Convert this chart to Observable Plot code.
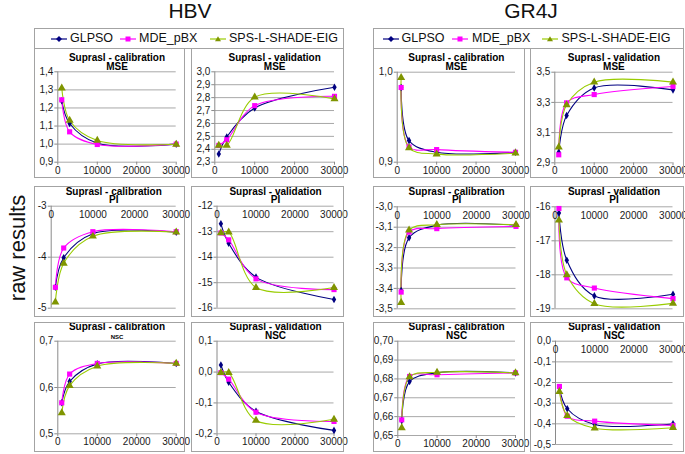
<!DOCTYPE html>
<html><head><meta charset="utf-8">
<script src="https://cdn.jsdelivr.net/npm/d3@7"></script>
<script src="https://cdn.jsdelivr.net/npm/@observablehq/plot@0.6"></script>
<style>
body{margin:0;background:#fff;font-family:"Liberation Sans",Arial,sans-serif;}
#root{position:relative;width:685px;height:454px;overflow:hidden;background:#fff}
.abs{position:absolute;white-space:nowrap}
.box{position:absolute;border:1px solid #a3a3a3;box-sizing:border-box;pointer-events:none}
</style></head><body><div id="root"></div><script>
// ---------------- data ----------------
const evals = [1000, 3000, 10000, 30000];
const seriesNames = ["GLPSO", "MDE_pBX", "SPS-L-SHADE-EIG"];
const xTicks = [0, 10000, 20000, 30000];
const groupNames = ["HBV", "GR4J"];
const yAxisLabel = "raw results";

// each panel: rows = GLPSO, MDE_pBX, SPS-L-SHADE-EIG ; columns = evals
const hbvCalMSE = [[1.24, 1.114, 1.005, 1.0], [1.245, 1.068, 0.998, 1.0], [1.31, 1.131, 1.02, 0.999]];
const hbvValMSE = [[2.363, 2.495, 2.72, 2.88], [2.43, 2.474, 2.738, 2.81], [2.43, 2.43, 2.803, 2.79]];
const hbvCalPI = [[-4.59, -4.01, -3.54, -3.51], [-4.59, -3.82, -3.50, -3.50], [-4.88, -4.12, -3.59, -3.51]];
const hbvValPI = [[-12.69, -13.45, -14.78, -15.66], [-13.05, -13.32, -14.85, -15.27], [-13.05, -13.02, -15.19, -15.19]];
const hbvCalNSC = [[0.567, 0.613, 0.651, 0.652], [0.567, 0.629, 0.652, 0.652], [0.545, 0.604, 0.646, 0.652]];
const hbvValNSC = [[0.023, -0.033, -0.127, -0.189], [-0.002, -0.023, -0.13, -0.16], [-0.002, -0.002, -0.157, -0.153]];

const gr4jCalMSE = [[0.983, 0.924, 0.911, 0.911], [0.983, 0.917, 0.914, 0.911], [0.994, 0.916, 0.909, 0.910]];
const gr4jValMSE = [[2.97, 3.213, 3.396, 3.383], [2.953, 3.297, 3.352, 3.405], [3.003, 3.284, 3.434, 3.434]];
const gr4jCalPI = [[-3.41, -3.152, -3.09, -3.09], [-3.418, -3.124, -3.107, -3.096], [-3.47, -3.115, -3.088, -3.088]];
const gr4jValPI = [[-16.18, -17.57, -18.62, -18.57], [-16.05, -18.09, -18.39, -18.70], [-16.39, -18.0, -18.85, -18.84]];
const gr4jCalNSC = [[0.658, 0.6786, 0.6832, 0.6832], [0.6583, 0.6813, 0.6822, 0.6832], [0.654, 0.681, 0.6835, 0.6832]];
const gr4jValNSC = [[-0.227, -0.327, -0.403, -0.40], [-0.219, -0.363, -0.387, -0.408], [-0.244, -0.36, -0.421, -0.419]];

// y tick values
const ticksHbvCalMSE = [0.9, 1.0, 1.1, 1.2, 1.3, 1.4];
const ticksHbvValMSE = [2.3, 2.4, 2.5, 2.6, 2.7, 2.8, 2.9, 3.0];
const ticksHbvCalPI = [-5, -4, -3];
const ticksHbvValPI = [-16, -15, -14, -13, -12];
const ticksHbvCalNSC = [0.5, 0.6, 0.7];
const ticksHbvValNSC = [-0.2, -0.1, 0.0, 0.1];
const ticksGr4jCalMSE = [0.9, 1.0];
const ticksGr4jValMSE = [2.9, 3.1, 3.3, 3.5];
const ticksGr4jCalPI = [-3.5, -3.4, -3.3, -3.2, -3.1, -3.0];
const ticksGr4jValPI = [-19, -18, -17, -16];
const ticksGr4jCalNSC = [0.65, 0.66, 0.67, 0.68, 0.69, 0.70];
const ticksGr4jValNSC = [-0.5, -0.4, -0.3, -0.2, -0.1, 0.0];

const titleCal = "Suprasl - calibration";
const titleVal = "Suprasl - validation";

// ---------------- styles ----------------
const lineColors = ["#000080", "#ff00ff", "#99cc00"];
const markerColors = ["#000080", "#ff00ff", "#7f9500"];
const symbols = ["diamond", "square", "triangle"];
const symbolR = [2.3, 2.9, 3.0];
const GRID = "#a8a8a8", AXIS = "#8a8a8a", TXT = "#1a1a1a";
const FONT = "'Liberation Sans', Arial, sans-serif";

// layout: box [left, top, w, h], plot [x0, x1, yTop, yBottom], title baselines
const panels = [
  {data: hbvCalMSE, ticks: ticksHbvCalMSE, dec: 1, top: false, t1: titleCal, t2: "MSE", box: [34, 48, 151, 130], plot: [57.3, 175.7, 71.3, 161.7], b: [60.3, 69.2]},
  {data: hbvValMSE, ticks: ticksHbvValMSE, dec: 1, top: false, t1: titleVal, t2: "MSE", box: [191, 48, 153, 130], plot: [214.3, 334, 71.3, 161.7], b: [60.3, 69.2]},
  {data: gr4jCalMSE, ticks: ticksGr4jCalMSE, dec: 1, top: false, t1: titleCal, t2: "MSE", box: [373, 48, 152, 130], plot: [396.7, 515, 71.7, 161.7], b: [60.3, 69.2]},
  {data: gr4jValMSE, ticks: ticksGr4jValMSE, dec: 1, top: false, t1: titleVal, t2: "MSE", box: [530, 48, 154, 130], plot: [554.3, 672.5, 71.7, 162.3], b: [60.3, 69.2]},
  {data: hbvCalPI, ticks: ticksHbvCalPI, dec: 0, top: true, t1: titleCal, t2: "PI", box: [34, 186, 151, 131], plot: [50.7, 175.7, 205.7, 307.7], b: [194.2, 202.8]},
  {data: hbvValPI, ticks: ticksHbvValPI, dec: 0, top: true, t1: titleVal, t2: "PI", box: [191, 186, 153, 131], plot: [216.5, 333.5, 205.7, 307.7], b: [194.2, 202.8]},
  {data: gr4jCalPI, ticks: ticksGr4jCalPI, dec: 1, top: true, t1: titleCal, t2: "PI", box: [373, 186, 152, 131], plot: [396.7, 515.5, 206.3, 308.3], b: [194.2, 202.8]},
  {data: gr4jValPI, ticks: ticksGr4jValPI, dec: 0, top: true, t1: titleVal, t2: "PI", box: [530, 186, 154, 131], plot: [554.5, 672.5, 206.3, 308.3], b: [194.2, 202.8]},
  {data: hbvCalNSC, ticks: ticksHbvCalNSC, dec: 1, top: false, t1: titleCal, t2: "NSC", t2size: 6, box: [34, 322, 151, 130], plot: [57.3, 175.7, 340.7, 433.3], b: [329.4, 338.6]},
  {data: hbvValNSC, ticks: ticksHbvValNSC, dec: 1, top: false, t1: titleVal, t2: "NSC", box: [191, 322, 153, 130], plot: [216.5, 333.5, 340.7, 433.3], b: [329.4, 338.6]},
  {data: gr4jCalNSC, ticks: ticksGr4jCalNSC, dec: 2, top: false, t1: titleCal, t2: "NSC", box: [373, 322, 152, 130], plot: [397.3, 515, 340.7, 435], b: [329.4, 338.6]},
  {data: gr4jValNSC, ticks: ticksGr4jValNSC, dec: 1, top: true, t1: titleVal, t2: "NSC", box: [530, 322, 154, 130], plot: [555, 672.5, 340.7, 444], b: [329.4, 338.6]}
];

const root = document.getElementById("root");

function addDiv(html, css) {
  const d = document.createElement("div");
  d.className = "abs";
  d.innerHTML = html;
  Object.assign(d.style, css);
  root.appendChild(d);
  return d;
}

function makePanel(cfg) {
  const [bx, by, bw, bh] = cfg.box;
  const [x0, x1, yT, yB] = cfg.plot;
  const fmt = v => v.toFixed(cfg.dec).replace(".", ",");
  const yDomain = [d3.min(cfg.ticks), d3.max(cfg.ticks)];
  const marks = [
    Plot.ruleY(cfg.ticks, {stroke: GRID, strokeWidth: 1}),
    Plot.ruleX([0], {stroke: AXIS, strokeWidth: 1}),
    Plot.axisY(cfg.ticks, {label: null, tickSize: 3, tickPadding: 1.5, tickFormat: fmt, stroke: AXIS, fill: TXT, fontSize: 10})
  ];
  if (cfg.top) {
    marks.push(Plot.text(xTicks, {x: d => d, frameAnchor: "top", dy: 9, lineAnchor: "middle", text: d => String(d), fill: TXT, fontSize: 10}));
  } else {
    marks.push(Plot.axisX(xTicks, {label: null, tickSize: 3, tickPadding: 1.5, tickFormat: d => String(d), stroke: AXIS, fill: TXT, fontSize: 10}));
  }
  seriesNames.forEach((name, si) => {
    const rows = cfg.data[si].map((v, i) => ({x: evals[i], y: v}));
    marks.push(Plot.line(rows, {x: "x", y: "y", stroke: lineColors[si], strokeWidth: 1.1, curve: "catmull-rom"}));
  });
  seriesNames.forEach((name, si) => {
    const rows = cfg.data[si].map((v, i) => ({x: evals[i], y: v}));
    marks.push(Plot.dot(rows, {x: "x", y: "y", symbol: symbols[si], r: symbolR[si], fill: markerColors[si], stroke: "none"}));
  });
  marks.push(Plot.text([cfg.t1], {frameAnchor: "top", lineAnchor: "bottom", dy: cfg.b[0] - yT, text: d => d, fontWeight: "bold", fontSize: 10, fill: "#000"}));
  marks.push(Plot.text([cfg.t2], {frameAnchor: "top", lineAnchor: "bottom", dy: cfg.b[1] - yT, text: d => d, fontWeight: "bold", fontSize: cfg.t2size || 10, fill: "#000"}));

  const svg = Plot.plot({
    width: bw, height: bh,
    marginLeft: x0 - bx, marginRight: bx + bw - x1,
    marginTop: yT - by, marginBottom: by + bh - yB,
    x: {domain: [0, 30000], axis: null},
    y: {domain: yDomain, axis: null},
    style: {fontFamily: FONT, fontSize: "10px", background: "transparent", overflow: "visible", color: TXT},
    marks
  });
  svg.style.position = "absolute";
  svg.style.left = bx + "px";
  svg.style.top = by + "px";
  root.appendChild(svg);
  const b = document.createElement("div");
  b.className = "box";
  Object.assign(b.style, {left: bx + "px", top: by + "px", width: bw + "px", height: bh + "px"});
  root.appendChild(b);
}

panels.forEach(makePanel);

// group titles
addDiv(groupNames[0], {left: "140px", width: "100px", top: "0px", textAlign: "center", fontSize: "21px", lineHeight: "21px", color: "#111"});
addDiv(groupNames[1], {left: "481px", width: "100px", top: "0px", textAlign: "center", fontSize: "21px", lineHeight: "21px", color: "#111"});
// y label
addDiv(yAxisLabel, {left: "-52px", width: "140px", top: "235px", height: "26px", lineHeight: "26px", textAlign: "center", fontSize: "22px", color: "#111", transform: "rotate(-90deg)"});

// legends
const legendLayout = [
  {box: [34, 27.5, 310, 21], items: [[51, 70], [120, 139], [210, 229]]},
  {box: [373, 27.5, 311, 21], items: [[383, 401.5], [452, 472], [542, 561.5]]}
];
function swatch(si) {
  const c = lineColors[si], m = markerColors[si];
  let mk;
  if (si === 0) mk = `<polygon points="8,2 11,5 8,8 5,5" fill="${m}"/>`;
  else if (si === 1) mk = `<rect x="5.5" y="2.5" width="5" height="5" fill="${m}"/>`;
  else mk = `<polygon points="8,2.2 11,7.2 5,7.2" fill="${m}"/>`;
  return `<svg width="16" height="10" style="display:block"><line x1="0" y1="5" x2="16" y2="5" stroke="${c}" stroke-width="1.2"/>${mk}</svg>`;
}
legendLayout.forEach(L => {
  const [lx, ly, lw, lh] = L.box;
  const b = document.createElement("div");
  b.className = "box";
  Object.assign(b.style, {left: lx + "px", top: ly + "px", width: lw + "px", height: lh + "px"});
  root.appendChild(b);
  L.items.forEach(([sx, tx], si) => {
    addDiv(swatch(si), {left: sx + "px", top: (ly + 6) + "px"});
    addDiv(seriesNames[si], {left: tx + "px", top: (ly + 3) + "px", fontSize: "12.5px", lineHeight: "14px", color: "#111"});
  });
});
</script></body></html>
